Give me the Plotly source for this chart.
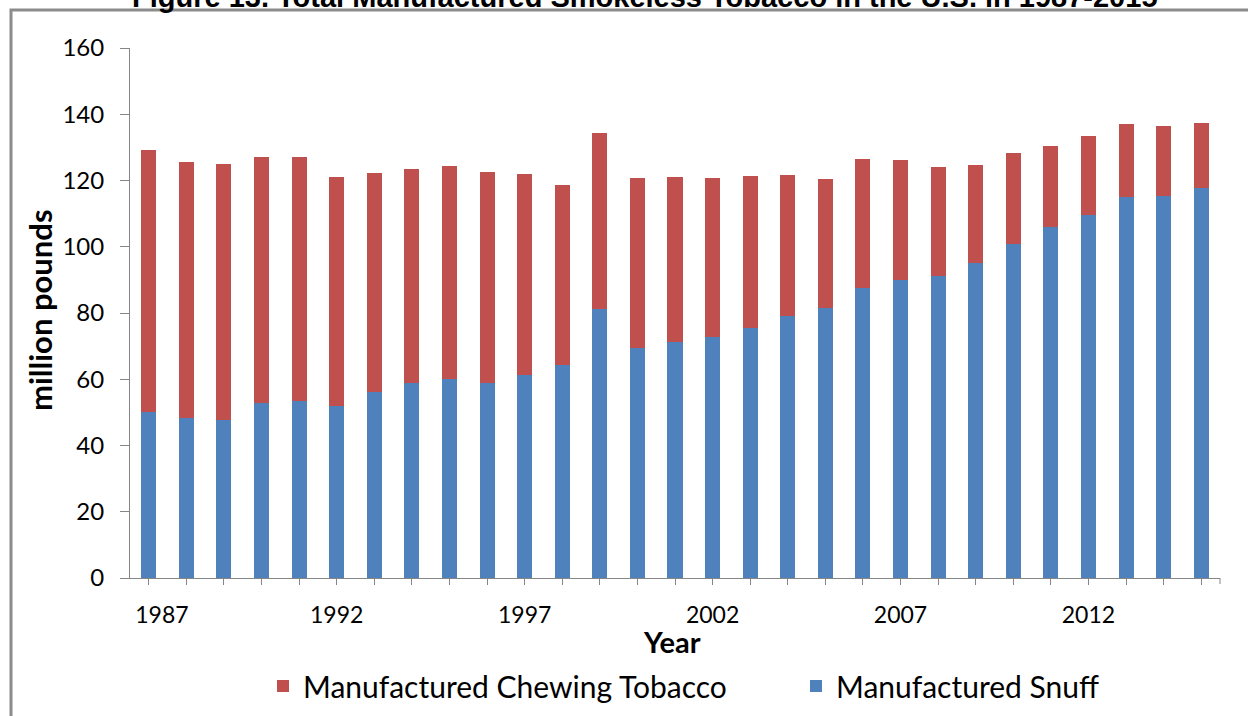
import plotly.graph_objects as go

years = list(range(1987, 2016))
total = [129.2, 125.5, 124.9, 127.1, 127.0, 121.0, 122.2, 123.4, 124.5, 122.6,
         121.9, 118.7, 134.2, 120.9, 121.0, 120.7, 121.5, 121.8, 120.4, 126.4,
         126.1, 124.2, 124.7, 128.3, 130.5, 133.4, 137.1, 136.5, 137.3]
snuff = [50.2, 48.2, 47.7, 52.7, 53.4, 51.9, 56.2, 59.0, 60.0, 59.0,
         61.3, 64.3, 81.1, 69.3, 71.2, 72.9, 75.6, 79.2, 81.4, 87.5,
         90.0, 91.3, 95.0, 100.8, 106.1, 109.6, 115.1, 115.3, 117.8]
chewing = [round(t - s, 1) for t, s in zip(total, snuff)]

label_years = [1987, 1992, 1997, 2002, 2007, 2012]
y_ticks = [0, 20, 40, 60, 80, 100, 120, 140, 160]

FONT = "Lato"
BLUE = "#4F81BD"
RED = "#C0504D"
AXIS = "#868686"

fig = go.Figure()
fig.add_trace(go.Bar(x=years, y=snuff, name="Manufactured Snuff",
                     marker=dict(color=BLUE, line=dict(width=0)), width=0.4,
                     legend="legend2", showlegend=True))
fig.add_trace(go.Bar(x=years, y=chewing, name="Manufactured Chewing Tobacco",
                     marker=dict(color=RED, line=dict(width=0)), width=0.4,
                     legend="legend", showlegend=True))

L, R, T, B = 130, 28, 48, 138
W, H = 1248, 716
pw, ph = W - L - R, H - T - B

def px(xp):
    return (xp - L) / pw

def py(yp):
    return (H - B - yp) / ph

# first label nudged right as in the reference (kept inside the axis)
label_pos = [y + (0.35 if y == 1987 else 0) for y in label_years]

legend_style = dict(orientation="h", xanchor="left", yanchor="top",
                    font=dict(family=FONT, size=30), bgcolor="rgba(0,0,0,0)",
                    visible=True)

fig.update_layout(
    width=W, height=H,
    margin=dict(l=L, r=R, t=T, b=B, autoexpand=False),
    barmode="stack",
    showlegend=True,
    plot_bgcolor="white", paper_bgcolor="white",
    font=dict(family=FONT, size=23, color="#000000"),
    xaxis=dict(range=[1986.5, 2015.5], tickmode="array",
               tickvals=label_pos,
               ticktext=[str(y) for y in label_years],
               ticks="", showline=True, linecolor=AXIS, linewidth=1,
               showgrid=False, zeroline=False,
               tickfont=dict(family=FONT, size=23), ticklabelstandoff=16,
               minor=dict(tickmode="linear", tick0=1987, dtick=1, ticks="outside",
                          ticklen=6, tickcolor=AXIS, tickwidth=1, showgrid=False)),
    yaxis=dict(range=[0, 160], tickmode="array", tickvals=y_ticks,
               ticks="outside", ticklen=9, tickcolor=AXIS, tickwidth=1,
               showline=True, linecolor=AXIS, linewidth=1,
               showgrid=False, zeroline=False,
               tickfont=dict(family=FONT, size=24), ticklabelstandoff=11),
    legend=dict(x=px(263), y=py(660), **legend_style),
    legend2=dict(x=px(796), y=py(660), **legend_style),
    annotations=[
        dict(text="<b>Figure 13. Total Manufactured Smokeless Tobacco in the U.S. in 1987-2015</b>",
             x=px(645), y=py(-3), xref="paper", yref="paper", showarrow=False,
             font=dict(family="Liberation Sans", size=29, color="#000000"),
             xanchor="center", yanchor="middle"),
        dict(text="<b>million pounds</b>", textangle=-90, x=px(40), y=py(310),
             xref="paper", yref="paper", showarrow=False,
             font=dict(family=FONT, size=31), xanchor="center", yanchor="middle"),
        dict(text="<b>Year</b>", x=px(672), y=py(641),
             xref="paper", yref="paper", showarrow=False,
             font=dict(family=FONT, size=29), xanchor="center", yanchor="middle"),
    ],
    shapes=[
        dict(type="rect", xref="paper", yref="paper",
             x0=px(11), x1=px(1300), y0=py(10), y1=py(800),
             line=dict(color="#8C8C8C", width=3), layer="below"),
        dict(type="line", xref="paper", yref="paper",
             x0=1, x1=1, y0=0, y1=py(584),
             line=dict(color=AXIS, width=1)),
    ],
)

fig.write_html("out.html")
